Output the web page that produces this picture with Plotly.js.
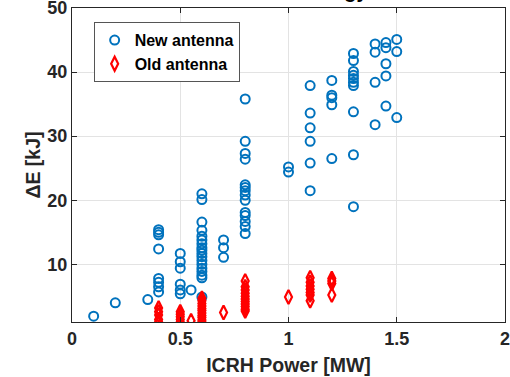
<!DOCTYPE html>
<html>
<head>
<meta charset="utf-8">
<script src="https://cdn.plot.ly/plotly-3.0.1.min.js"></script>
<style>html,body{margin:0;padding:0;background:#fff;}#chart{width:510px;height:377px;}</style>
</head>
<body>
<div id="chart"></div>
<script>
// New antenna: ICRH power [MW] and energy increase [kJ]
const newPower = [
  0.1,
  0.2,
  0.35,
  0.4,0.4,0.4,0.4,0.4,0.4,0.4,0.4,
  0.5,0.5,0.5,0.5,0.5,0.5,
  0.55,
  0.6,0.6,0.6,0.6,0.6,0.6,0.6,0.6,0.6,0.6,0.6,0.6,0.6,0.6,0.6,0.6,0.6,0.6,
  0.7,0.7,0.7,
  0.8,0.8,0.8,0.8,0.8,0.8,0.8,0.8,0.8,0.8,0.8,0.8,0.8,0.8,
  1.0,1.0,
  1.1,1.1,1.1,1.1,1.1,1.1,
  1.2,1.2,1.2,1.2,1.2,
  1.3,1.3,1.3,1.3,1.3,1.3,1.3,1.3,1.3,1.3,
  1.4,1.4,1.4,1.4,
  1.45,1.45,1.45,1.45,1.45,
  1.5,1.5,1.5
];
const newEnergy = [
  1.9,
  4.0,
  4.5,
  15.4,15.0,14.6,12.4,7.8,7.2,6.5,5.7,
  11.7,10.4,9.4,6.9,6.0,5.4,
  6.0,
  21.0,20.1,16.6,15.3,14.4,13.8,13.2,12.6,12.2,11.7,11.2,10.6,10.0,9.4,8.9,8.3,7.9,4.9,
  13.8,12.6,11.1,
  35.8,29.2,27.3,26.4,22.4,22.0,21.5,20.8,20.0,18.1,17.6,16.7,15.9,14.8,
  25.2,24.4,
  37.9,33.6,31.3,29.2,25.8,21.5,
  38.7,36.4,36.0,34.9,26.5,
  42.9,41.8,40.1,39.5,39.0,38.4,37.9,33.8,27.1,19.0,
  44.4,43.1,38.4,31.8,
  44.6,43.8,41.3,39.4,34.7,
  45.1,43.2,32.9
];
// Old antenna
const oldPower = [
  0.4,0.4,0.4,0.4,0.4,
  0.5,0.5,0.5,0.5,0.5,
  0.55,
  0.6,0.6,0.6,0.6,0.6,0.6,0.6,0.6,0.6,0.6,0.6,
  0.7,
  0.8,0.8,0.8,0.8,0.8,0.8,0.8,0.8,0.8,0.8,0.8,
  1.0,
  1.1,1.1,1.1,1.1,1.1,1.1,1.1,
  1.2,1.2,1.2,1.2
];
const oldEnergy = [
  3.2,2.6,2.1,1.4,1.0,
  2.6,2.2,1.8,1.4,1.0,
  1.2,
  4.7,4.3,3.9,3.5,3.1,2.8,2.4,2.0,1.7,1.3,1.0,
  2.5,
  7.4,6.5,6.0,5.5,5.0,4.6,4.2,3.8,3.4,3.0,2.7,
  4.9,
  7.9,7.2,6.6,6.1,5.6,5.2,4.3,
  7.8,7.4,7.0,5.2
];
const seriesNames = ["New antenna", "Old antenna"];
const xTickVals = [0, 0.5, 1, 1.5, 2];
const xTickText = ["0", "0.5", "1", "1.5", "2"];
const yTickVals = [10, 20, 30, 40, 50];
const yTickText = ["10", "20", "30", "40", "50"];
const titleText = "Stored Energy";

const fontFam = "Liberation Sans, Arial, sans-serif";
const traces = [
  {
    x: newPower, y: newEnergy, name: seriesNames[0], type: "scatter", mode: "markers",
    marker: {symbol: "circle-open", size: 9, color: "#0072BD", line: {width: 2, color: "#0072BD"}}
  },
  {
    x: oldPower, y: oldEnergy, name: seriesNames[1], type: "scatter", mode: "markers",
    marker: {symbol: "diamond-tall-open", size: 10, color: "#FF0000", line: {width: 2.2, color: "#FF0000"}}
  }
];
const axisCommon = {
  showline: true, linecolor: "#262626", linewidth: 1, mirror: "ticks",
  ticks: "inside", ticklen: 5, tickcolor: "#262626", tickwidth: 1,
  showgrid: true, gridcolor: "#e3e3e3", gridwidth: 1, zeroline: false,
  ticklabeloverflow: "allow",
  tickfont: {family: fontFam, size: 18, color: "#262626", weight: "bold"}
};
const layout = {
  width: 510, height: 377,
  margin: {l: 72, r: 5, t: 8, b: 55},
  paper_bgcolor: "#ffffff", plot_bgcolor: "#ffffff",
  showlegend: true,
  xaxis: Object.assign({}, axisCommon, {
    range: [0, 2], tickvals: xTickVals, ticktext: xTickText,
    title: {text: "ICRH Power [MW]", font: {family: fontFam, size: 19.5, color: "#262626", weight: "bold"}, standoff: 10}
  }),
  yaxis: Object.assign({}, axisCommon, {
    range: [1, 50], tickvals: yTickVals, ticktext: yTickText,
    title: {text: "ΔE [kJ]", font: {family: fontFam, size: 19.5, color: "#262626", weight: "bold"}, standoff: 1}
  }),
  legend: {
    x: 0.05, y: 0.955, xanchor: "left", yanchor: "top",
    bgcolor: "#ffffff", bordercolor: "#555555", borderwidth: 1,
    font: {family: fontFam, size: 16, color: "#000000", weight: "bold"},
    tracegroupgap: 0
  },
  annotations: [{
    text: titleText, xref: "paper", yref: "paper", x: (370 - 72) / 432, y: 1,
    xanchor: "right", yanchor: "bottom", yshift: 4, showarrow: false,
    font: {family: fontFam, size: 20, color: "#000000", weight: "bold"}
  }]
};
Plotly.newPlot("chart", traces, layout, {displayModeBar: false, staticPlot: true});
</script>
</body>
</html>
